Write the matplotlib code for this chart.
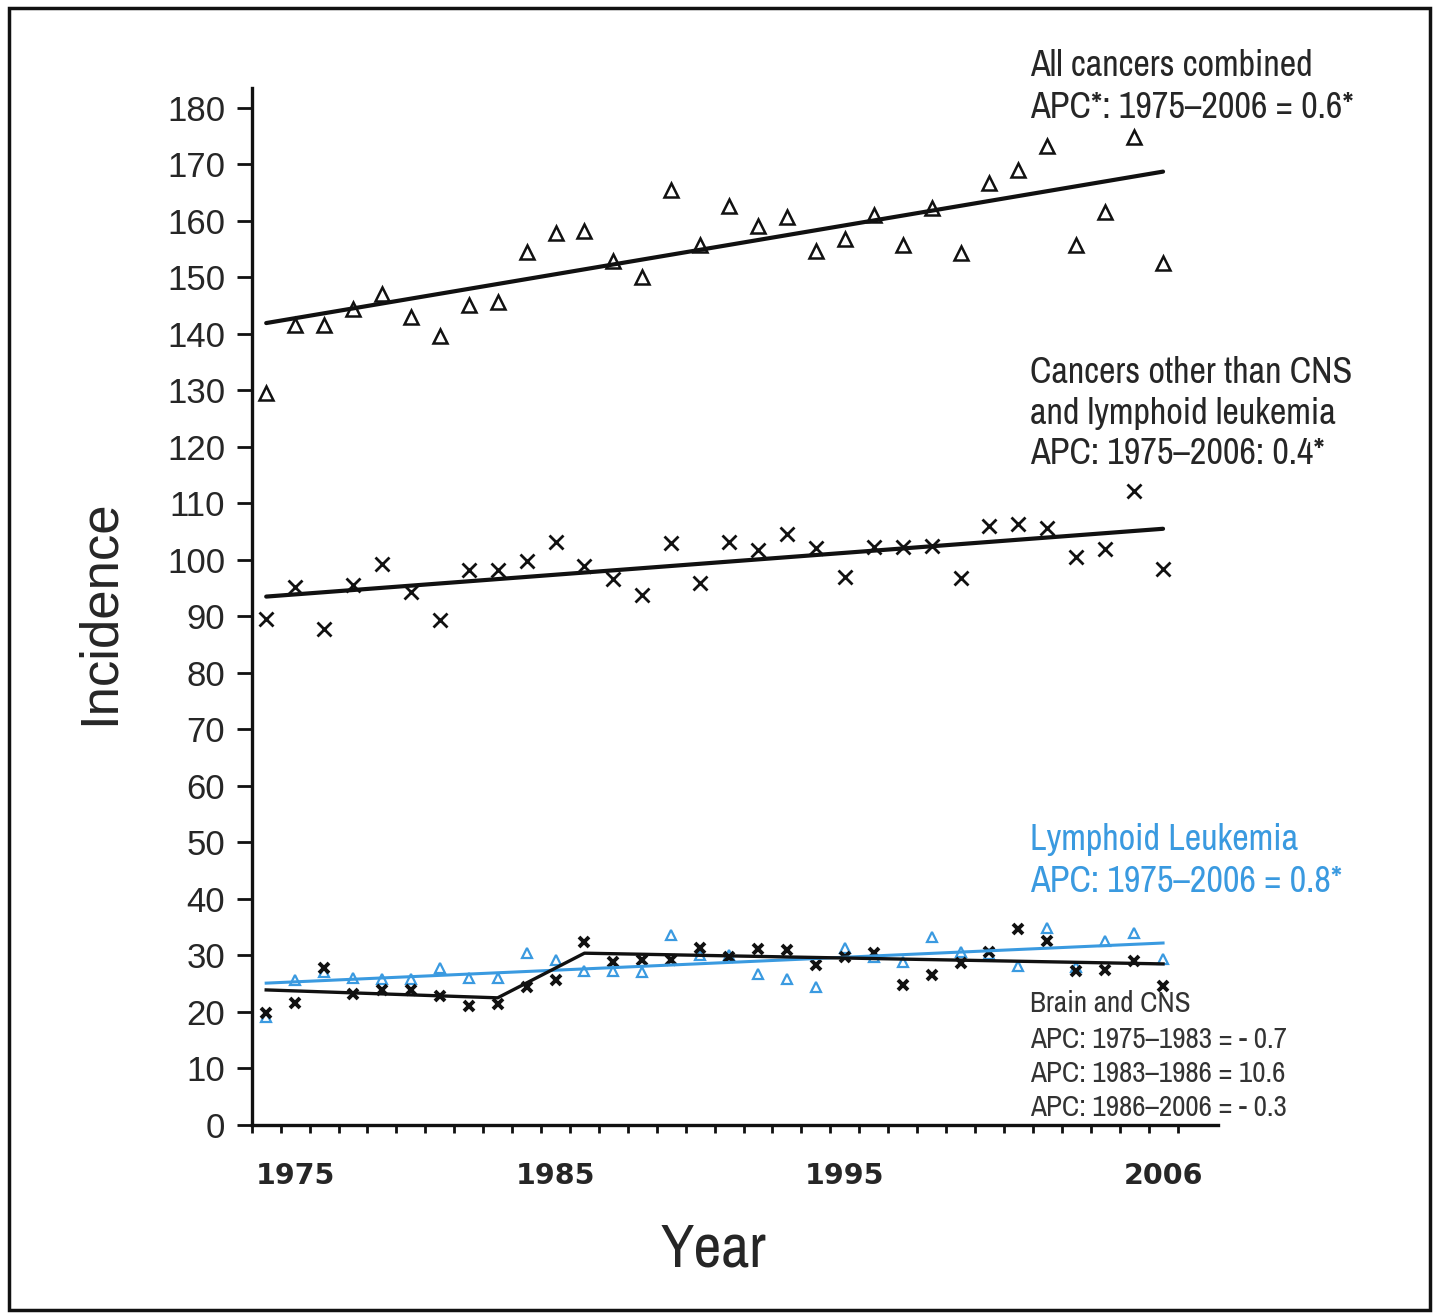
import matplotlib
matplotlib.use("Agg")
import matplotlib.pyplot as plt
import matplotlib.transforms as mtransforms
from matplotlib.patches import Rectangle
from matplotlib import font_manager

# data
years = list(range(1975, 2007))

all_cancers = [129.5, 141.6, 141.6, 144.4, 147.1, 143.0, 139.6, 145.1, 145.7, 154.5, 157.9,
               158.2, 152.9, 150.1, 165.5, 155.8, 162.7, 159.0, 160.7, 154.6, 156.7, 161.1,
               155.7, 162.3, 154.3, 166.6, 169.0, 173.2, 155.7, 161.5, 174.8, 152.6]
other_cancers = [89.6, 95.2, 87.8, 95.6, 99.3, 94.3, 89.4, 98.2, 98.2, 99.8, 103.2,
                 98.9, 96.6, 93.8, 103.0, 95.9, 103.2, 101.8, 104.6, 102.1, 97.0, 102.3,
                 102.3, 102.5, 96.8, 106.0, 106.4, 105.7, 100.5, 101.9, 112.2, 98.4]
brain_cns = [19.8, 21.6, 27.8, 23.2, 23.9, 23.9, 22.8, 21.1, 21.4, 24.4, 25.7,
             32.4, 28.8, 29.2, 29.2, 31.3, 29.7, 31.2, 31.0, 28.3, 29.7, 30.4,
             24.8, 26.5, 28.7, 30.6, 34.7, 32.6, 27.3, 27.4, 29.0, 24.6]
lymph_leuk = [19.1, 25.7, 27.0, 26.0, 25.8, 25.8, 27.8, 26.0, 26.0, 30.4, 29.2,
              27.3, 27.3, 27.1, 33.6, 30.0, 30.1, 26.7, 25.8, 24.4, 31.3, 29.7,
              28.8, 33.3, 30.6, 30.2, 28.1, 34.9, 28.0, 32.6, 34.0, 29.4]

# fitted trend lines (joinpoints)
fit_years = [1975, 2006]
all_fit = [141.9, 168.7]
other_fit = [93.5, 105.5]
leuk_fit = [25.1, 32.2]
brain_fit_years = [1975, 1983, 1986, 2006]
brain_fit = [23.9, 22.5, 30.4, 28.5]

tick_years = [1975, 1985, 1995, 2006]
y_ticks = list(range(0, 181, 10))

blue = "#3a9ae0"
ink = "#111111"
txt = "#262626"

# condensed face for the notes, if one is around
narrow_file = None
for f in font_manager.fontManager.ttflist:
    if "Narrow" in f.fname and "Bold" not in f.fname and "Italic" not in f.fname:
        narrow_file = f.fname
        break
if narrow_file:
    narrow = font_manager.FontProperties(fname=narrow_file)
else:
    narrow = font_manager.FontProperties(family="DejaVu Sans")

fig = plt.figure(figsize=(14.36, 13.15), dpi=100)
ax = fig.add_axes([0.1753, 0.1445, 0.8482 - 0.1753, 0.9331 - 0.1445])

# scatter points
ax.plot(years, all_cancers, ls="none", marker="^", ms=9.5, mfc="white", mec=ink, mew=1.8)
ax.plot(years, other_cancers, ls="none", marker="x", ms=10.5, mec=ink, mew=2.0)
ax.plot(years, lymph_leuk, ls="none", marker="^", ms=7, mfc="white", mec=blue, mew=1.6)
ax.plot(years, brain_cns, ls="none", marker="x", ms=7, mec=ink, mew=2.8)

# trend lines
ax.plot(fit_years, all_fit, color=ink, lw=3.0, solid_capstyle="round")
ax.plot(fit_years, other_fit, color=ink, lw=3.0, solid_capstyle="round")
ax.plot(fit_years, leuk_fit, color=blue, lw=2.2)
ax.plot(brain_fit_years, brain_fit, color=ink, lw=2.4)

ax.set_xlim(1974.5, 2007.9)
ax.set_ylim(0, 183.5)

for s in ["top", "right"]:
    ax.spines[s].set_visible(False)
for s in ["left", "bottom"]:
    ax.spines[s].set_linewidth(2.4)
    ax.spines[s].set_color(ink)

ax.set_yticks(y_ticks)
ax.set_yticklabels([str(v) for v in y_ticks], fontsize=25, family="Liberation Sans", color=txt)
ax.tick_params(axis="y", length=11, width=2, pad=8, color=ink)

ax.set_xticks(tick_years)
ax.set_xticklabels([str(v) for v in tick_years], fontsize=20.5, family="DejaVu Sans",
                   fontweight="bold", color=txt)
ax.set_xticks([y - 0.5 for y in range(1975, 2008)], minor=True)
ax.tick_params(axis="x", which="major", length=0, pad=27)
ax.tick_params(axis="x", which="minor", length=6, width=2, color=ink)

# first year label sits a bit to the right in the original
lab = ax.get_xticklabels()[0]
lab.set_transform(lab.get_transform() + mtransforms.ScaledTranslation(0.29, 0, fig.dpi_scale_trans))

# axis titles
fig.text(100 / 1436, 1 - 612 / 1315, "Incidence", rotation=90, fontsize=38,
         family="Liberation Sans", color=txt, ha="center", va="center")
fig.text(713 / 1436, 1 - 1250 / 1315, "Year", fontproperties=narrow, fontsize=44,
         color=txt, ha="center", va="center")

# annotations
def note(y_px, s, size=26, color=txt):
    fig.text(1030 / 1436, 1 - y_px / 1315, s, fontproperties=narrow, fontsize=size,
             color=color, ha="left", va="center")

note(66, "All cancers combined")
note(107, "APC*: 1975\u20132006 = 0.6*")
note(372, "Cancers other than CNS")
note(413, "and lymphoid leukemia")
note(454, "APC: 1975\u20132006: 0.4*")
note(840, "Lymphoid Leukemia", color=blue)
note(882, "APC: 1975\u20132006 = 0.8*", color=blue)
note(1003, "Brain and CNS", size=21, color="#333333")
note(1040, "APC: 1975\u20131983 = - 0.7", size=21, color="#333333")
note(1073, "APC: 1983\u20131986 = 10.6", size=21, color="#333333")
note(1108, "APC: 1986\u20132006 = - 0.3", size=21, color="#333333")

# frame round the whole figure
fig.patches.append(Rectangle((0.006, 0.004), 0.99, 0.99, transform=fig.transFigure,
                             fill=False, edgecolor=ink, lw=2.5))

fig.savefig("out.png", dpi=100)
